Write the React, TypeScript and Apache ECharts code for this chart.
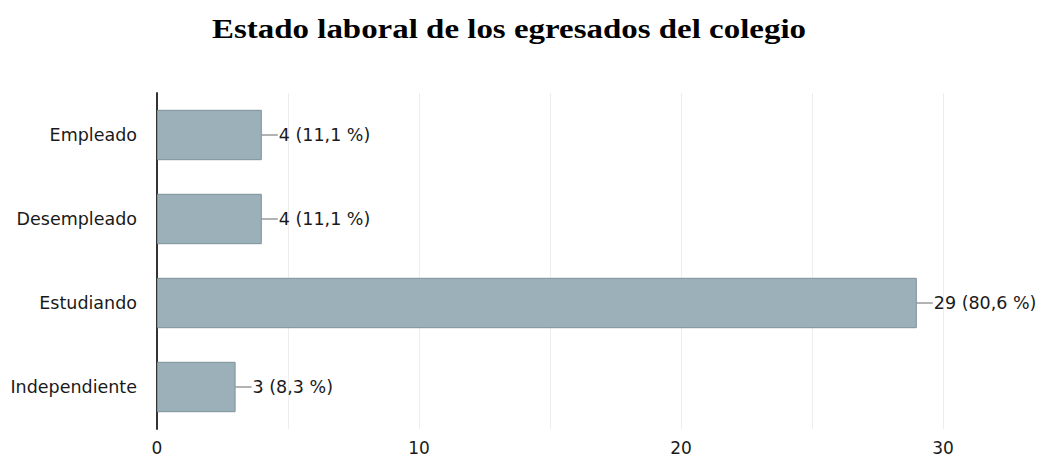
import React, { useEffect, useRef } from "react";
import * as echarts from "echarts";

const titleText = "Estado laboral de los egresados del colegio";
const categories = ["Empleado", "Desempleado", "Estudiando", "Independiente"];
const values = [4, 4, 29, 3];
const percentLabels = ["11,1 %", "11,1 %", "80,6 %", "8,3 %"];
const xTicks = [0, 10, 20, 30];

export default function App() {
  const ref = useRef<HTMLDivElement>(null);
  useEffect(() => {
    if (!ref.current) return;
    const chart = echarts.init(ref.current, undefined, { renderer: "svg" });
    const font = "DejaVu Sans";
    chart.setOption({
      animation: false,
      backgroundColor: "#ffffff",
      graphic: [
        {
          type: "text",
          x: 212,
          y: 29,
          scaleX: 1.22,
          style: {
            text: titleText,
            fontFamily: "Liberation Serif",
            fontWeight: "bold",
            fontSize: 27,
            fill: "#000",
            verticalAlign: "middle",
            align: "left",
          },
        },
      ],
      grid: { left: 157, right: 100, top: 93, bottom: 33 },
      xAxis: {
        type: "value",
        min: 0,
        max: 30,
        interval: 5,
        axisLine: { show: false },
        axisTick: { show: false },
        splitLine: { lineStyle: { color: "#ededed", width: 1 } },
        axisLabel: {
          margin: 10,
          fontFamily: font,
          fontSize: 17,
          color: "#1a1a1a",
          formatter: (v: number) => (xTicks.includes(v) ? String(v) : ""),
        },
      },
      yAxis: {
        type: "category",
        inverse: true,
        data: categories,
        axisLine: { show: true, lineStyle: { color: "#333", width: 2 } },
        axisTick: { show: false },
        axisLabel: {
          margin: 20,
          fontFamily: font,
          fontSize: 17.5,
          color: "#1a1a1a",
        },
      },
      series: [
        {
          type: "bar",
          data: values,
          barCategoryGap: "40%",
          itemStyle: { color: "#9bb0b8", borderColor: "#7d929b", borderWidth: 1 },
          label: {
            show: true,
            position: "right",
            distance: 0,
            formatter: (p: any) => `{d| }{t|${p.value} (${percentLabels[p.dataIndex]})}`,
            rich: {
              d: { width: 16, height: 1, backgroundColor: "#666", lineHeight: 1 },
              t: { fontFamily: font, fontSize: 17.5, color: "#1a1a1a", padding: [0, 0, 0, 1] },
            },
          },
        },
      ],
    });
    return () => chart.dispose();
  }, []);
  return (
    <div
      ref={ref}
      style={{ position: "fixed", left: 0, top: 0, width: 1043, height: 462 }}
    />
  );
}
